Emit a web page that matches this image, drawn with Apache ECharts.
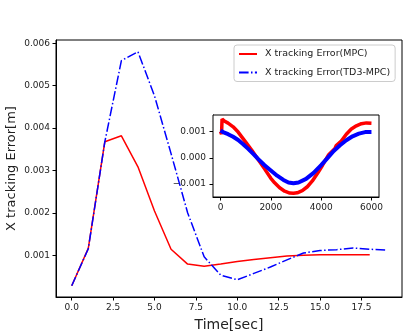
<!DOCTYPE html>
<html><head><meta charset="utf-8">
<script src="https://cdn.jsdelivr.net/npm/echarts@6/dist/echarts.min.js"></script>
<style>html,body{margin:0;padding:0;background:#fff}#c{width:408px;height:334px}</style>
</head><body><div id="c"></div>
<script>
// Main chart data
const timeMPC = [0,1,2,3,4,5,6,7,8,9,10,11,12,13,14,15,16,17,18];
const errMPC = [0.00029,0.00117,0.00368,0.00382,0.00309,0.00205,0.00115,0.00080,0.00075,0.00080,0.00086,0.00091,0.00095,0.00099,0.00101,0.00102,0.00102,0.00102,0.00102];
const timeTD3 = [0,1,2,3,4,5,6,7,8,9,10,11,12,13,14,15,16,17,18,19];
const errTD3 = [0.00029,0.00116,0.00368,0.00559,0.00580,0.00476,0.00340,0.00201,0.00097,0.00054,0.00043,0.00058,0.00073,0.00090,0.00106,0.00112,0.00114,0.00118,0.00115,0.00113];
const xTicks = [0,2.5,5,7.5,10,12.5,15,17.5];
const yTicks = [0.001,0.002,0.003,0.004,0.005,0.006];
// Inset data (sample index vs error)
const insetSampMPC = [0,40,60,150,300,500,700,1000,1250,1480,1750,2000,2150,2350,2550,2750,2900,3050,3250,3450,3650,3850,4050,4300,4550,4600,4650,4800,5000,5200,5400,5600,5800,6000];
const insetErrMPC = [0.00100,0.00090,0.00148,0.00140,0.00132,0.00118,0.00098,0.00060,0.00028,-0.00004,-0.00042,-0.00078,-0.00095,-0.00114,-0.00127,-0.00134,-0.00135,-0.00133,-0.00125,-0.00110,-0.00088,-0.00060,-0.00029,0.00012,0.00036,0.00047,0.00042,0.00064,0.00090,0.00110,0.00122,0.00130,0.00133,0.00132];
const insetSampTD3 = [0,100,300,500,700,900,1100,1300,1500,1750,2000,2250,2500,2700,2900,3100,3400,3700,4000,4250,4500,4750,5000,5250,5500,5750,6000];
const insetErrTD3 = [0.00104,0.00098,0.00090,0.00080,0.00068,0.00052,0.00034,0.00015,-0.00005,-0.00028,-0.00048,-0.00068,-0.00084,-0.00094,-0.00097,-0.00094,-0.00080,-0.00057,-0.00028,-0.00001,0.00026,0.00048,0.00067,0.00082,0.00092,0.00098,0.00098];
const insetXTicks = [0,2000,4000,6000];
const insetYTicks = [-0.001,0,0.001];

const pair = (xs, ys) => xs.map((x,i)=>[x,ys[i]]);
const txt = '#222';
const fmtY = v => { const s = v.toFixed(3); return s.replace('-', '\u2212'); };
const axLine = {show:true, onZero:false, lineStyle:{color:'#000'}};

const chart = echarts.init(document.getElementById('c'), null, {renderer:'canvas'});
chart.setOption({
  animation:false,
  backgroundColor:'#fff',
  textStyle:{fontFamily:'DejaVu Sans'},
  grid:[
    {left:56, right:6, top:40, bottom:37, outerBoundsMode:'none', containLabel:false, show:true, borderColor:'#000', borderWidth:1, backgroundColor:'transparent'},
    {left:213, width:166, top:115, height:82, outerBoundsMode:'none', containLabel:false, show:true, borderColor:'#000', borderWidth:1, backgroundColor:'#fff', z:5}
  ],
  legend:{
    orient:'vertical', left:234, top:45, padding:[4,5,4,4],
    backgroundColor:'rgba(255,255,255,0.85)', borderColor:'#ccc', borderWidth:1, borderRadius:3,
    itemWidth:18, itemHeight:8, itemGap:8.5,
    itemStyle:{opacity:0},
    textStyle:{fontSize:9.5, color:txt, fontFamily:'DejaVu Sans', padding:[0,0,0,3]},
    data:['X tracking Error(MPC)','X tracking Error(TD3-MPC)']
  },
  xAxis:[
    {type:'value', gridIndex:0, min:-0.95, max:19.95,
     name:'Time[sec]', nameLocation:'middle', nameGap:21, nameMoveOverlap:false,
     nameTextStyle:{fontSize:14, color:txt, fontFamily:'DejaVu Sans'},
     axisLine:axLine, splitLine:{show:false},
     axisTick:{show:true, length:3.5, inside:false, customValues:xTicks, lineStyle:{color:'#000'}},
     axisLabel:{customValues:xTicks, fontSize:9, color:txt, margin:6, formatter:v=>v.toFixed(1)}},
    {type:'value', gridIndex:1, min:-300, max:6300,
     axisLine:axLine, splitLine:{show:false},
     axisTick:{show:true, length:3.5, customValues:insetXTicks, lineStyle:{color:'#000'}},
     axisLabel:{customValues:insetXTicks, fontSize:9, color:txt, margin:6, formatter:v=>String(v)}}
  ],
  yAxis:[
    {type:'value', gridIndex:0, min:0.000025, max:0.006075,
     name:'X tracking Error[m]', nameLocation:'middle', nameGap:38, nameMoveOverlap:false,
     nameTextStyle:{fontSize:13, color:txt, fontFamily:'DejaVu Sans'},
     axisLine:axLine, splitLine:{show:false},
     axisTick:{show:true, length:3.5, customValues:yTicks, lineStyle:{color:'#000'}},
     axisLabel:{customValues:yTicks, fontSize:9, color:txt, margin:6, formatter:v=>v.toFixed(3)}},
    {type:'value', gridIndex:1, min:-0.00149, max:0.00163,
     axisLine:axLine, splitLine:{show:false},
     axisTick:{show:true, length:3.5, customValues:insetYTicks, lineStyle:{color:'#000'}},
     axisLabel:{customValues:insetYTicks, fontSize:9, color:txt, margin:7, formatter:fmtY}}
  ],
  series:[
    {name:'X tracking Error(MPC)', type:'line', xAxisIndex:0, yAxisIndex:0, data:pair(timeMPC, errMPC),
     symbol:'none', color:'#ff0000', lineStyle:{width:1.5, color:'#ff0000'}, z:3},
    {name:'X tracking Error(TD3-MPC)', type:'line', xAxisIndex:0, yAxisIndex:0, data:pair(timeTD3, errTD3),
     symbol:'none', color:'#0000ff', lineStyle:{width:1.5, color:'#0000ff', type:[9.6,2.4,1.5,2.4]}, z:3},
    {name:'insetMPC', type:'line', xAxisIndex:1, yAxisIndex:1, data:pair(insetSampMPC, insetErrMPC),
     symbol:'none', lineStyle:{width:3.5, color:'#ff0000'}, z:6},
    {name:'insetTD3', type:'line', xAxisIndex:1, yAxisIndex:1, data:pair(insetSampTD3, insetErrTD3),
     symbol:'none', lineStyle:{width:4, color:'#0000ff'}, z:7}
  ]
});
</script></body></html>
